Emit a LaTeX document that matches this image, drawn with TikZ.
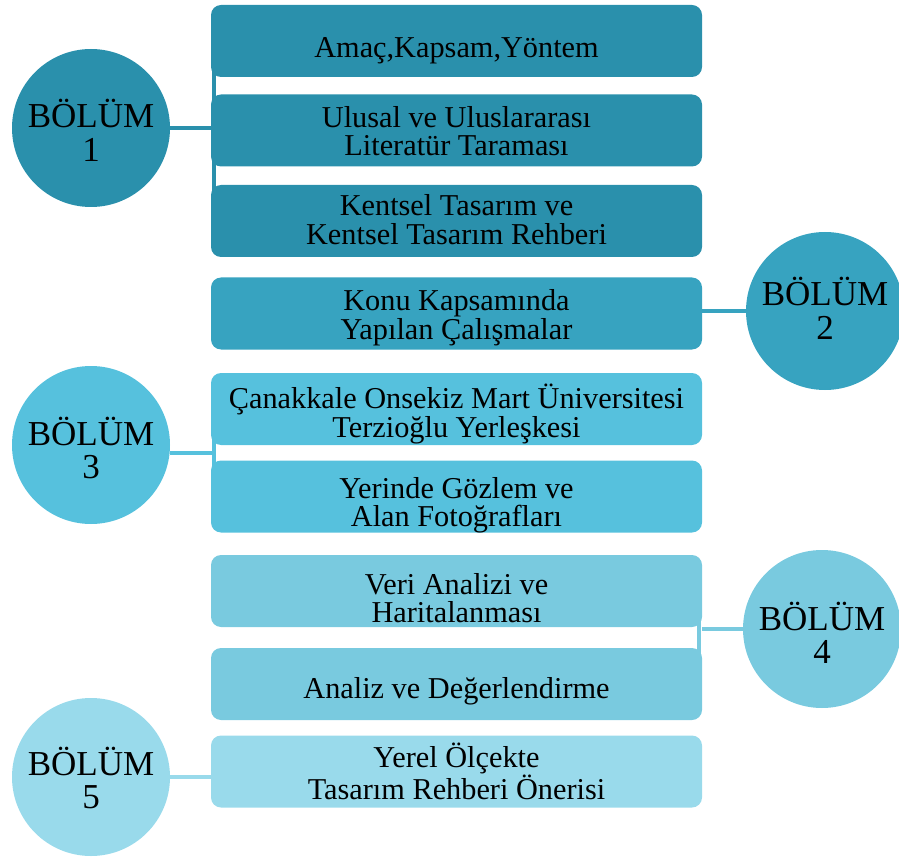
\documentclass[tikz,border=0pt]{standalone}
\usepackage{fontspec}
\setmainfont{Liberation Serif}
\usetikzlibrary{positioning}
\usetikzlibrary{calc}
\definecolor{grA}{HTML}{2A90AC}
\definecolor{grB}{HTML}{37A3C0}
\definecolor{grC}{HTML}{56C1DD}
\definecolor{grD}{HTML}{79CADF}
\definecolor{grE}{HTML}{99DAEB}

\begin{document}
\begin{tikzpicture}[x=1pt,y=-1pt,
  box/.style={rounded corners=10pt,minimum width=491pt,minimum height=72pt,inner sep=0pt,align=center,font=\fontsize{30.3}{28.5}\selectfont,text height=#1,text depth=0pt},
  box/.default=50pt,
  sec/.style={circle,minimum size=158pt,inner sep=0pt,align=center,font=\fontsize{35}{33.5}\selectfont,text height=#1,text depth=0pt},
  sec/.default=67pt,
  link/.style={line width=4.5pt}]
  \useasboundingbox (0,0) rectangle (899,858);
  \node[box=34pt,fill=grA] (1) at (456.5,41) {Amaç,Kapsam,Yöntem};
  \node[box=51pt,fill=grA] (2) at (456.5,130.5) {Ulusal ve Uluslararası\\ Literatür Taraması};
  \node[box=47pt,fill=grA] (3) at (456.5,221) {Kentsel Tasarım ve\\Kentsel Tasarım Rehberi};
  \node[box=52pt,fill=grB] (4) at (456.5,313.5) {Konu Kapsamında\\ Yapılan Çalışmalar};
  \node[box=56pt,fill=grC] (5) at (456.5,409) {Çanakkale Onsekiz Mart Üniversitesi\\Terzioğlu Yerleşkesi};
  \node[box=60pt,fill=grC] (6) at (456.5,496.5) {Yerinde Gözlem ve\\Alan Fotoğrafları};
  \node[box=63.5pt,fill=grD] (7) at (456.5,591) {Veri Analizi ve\\Haritalanması};
  \node[box=28pt,fill=grD] (8) at (456.5,684) {Analiz ve Değerlendirme};
  \node[box=56pt,fill=grE] (9) at (456.5,771.5) {Yerel Ölçekte\\Tasarım Rehberi Önerisi};
  \node[sec,fill=grA] (B1) at (91,128) {BÖLÜM\\1};
  \node[sec=56pt,fill=grB] (B2) at (825,311) {BÖLÜM\\2};
  \node[sec,fill=grC] (B3) at (91,445) {BÖLÜM\\3};
  \node[sec=69pt,fill=grD] (B4) at (822,629) {BÖLÜM\\4};
  \node[sec=63pt,fill=grE] (B5) at (91,777) {BÖLÜM\\5};
  \coordinate (m3) at ($([xshift=3pt]5.west)!.5!([xshift=3pt]6.west)$);
  \draw[link,grA]([xshift=3pt]1.west)--([xshift=3pt]3.west);
  \draw[link,grA](B1.east)--(B1.east -| 1.west);
  \draw[link,grB](B2.west -| 4.east)--(B2.west);
  \draw[link,grC]([xshift=3pt]5.west)--([xshift=3pt]6.west);
  \draw[link,grC](m3 -| B3.east)--(m3);
  \draw[link,grD]([xshift=-3pt]7.east)--([xshift=-3pt]8.east);
  \draw[link,grD](B4.west -| 7.east)--(B4.west);
  \draw[link,grE](B5.east)--(B5.east -| 9.west);
\end{tikzpicture}
\end{document}
